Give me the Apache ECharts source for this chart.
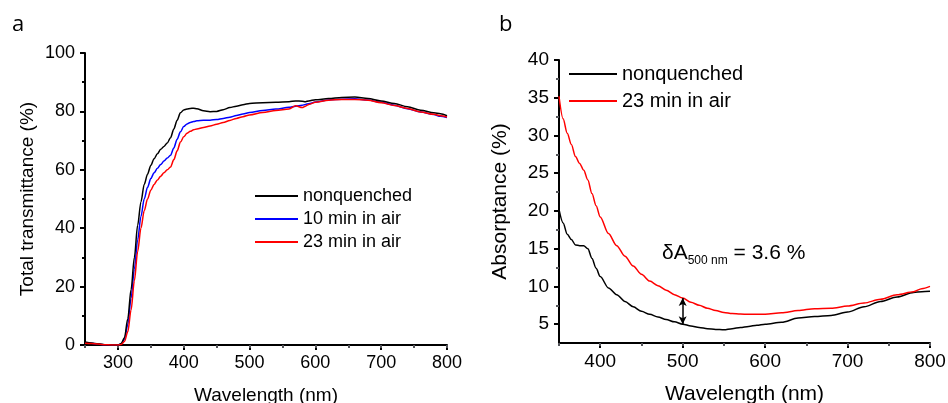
<!DOCTYPE html>
<html>
<head>
<meta charset="utf-8">
<title>Transmittance / absorptance</title>
<script src="https://cdn.jsdelivr.net/npm/echarts@6/dist/echarts.min.js"></script>
<style>
  html, body { margin: 0; padding: 0; background: #fff; }
  #chart { width: 948px; height: 403px; }
</style>
</head>
<body>
<div id="chart"></div>
<script>
// panel a: total transmittance (%)
const wlA = [250, 260, 270, 280, 290, 300, 305, 310, 315, 320, 325, 330, 335, 340, 345, 350, 355, 360, 365, 370, 375, 380, 385, 390, 395, 400, 405, 410, 415, 420, 430, 440, 450, 460, 470, 480, 490, 500, 520, 540, 560, 570, 580, 585, 590, 600, 620, 640, 660, 680, 700, 720, 740, 760, 780, 790, 800]
const nonquenchedA = [1.0, 0.7, 0.4, 0.1, 0, 0, 0.5, 2.5, 9, 19, 30, 41, 49, 55, 58.5, 61.5, 63.8, 65.5, 67, 68, 69.2, 71, 74, 77, 79.5, 80.5, 80.8, 81.0, 81.1, 80.9, 80.2, 79.9, 80.0, 80.6, 81.3, 81.8, 82.3, 82.7, 83.0, 83.1, 83.3, 83.6, 83.5, 83.3, 83.6, 84.0, 84.4, 84.8, 84.9, 84.4, 83.6, 82.7, 81.6, 80.4, 79.5, 79.2, 78.5]
const air10A = [0.8, 0.6, 0.3, 0.1, 0, 0, 0.3, 2, 7, 16, 26, 36, 44, 50, 54, 57, 59, 60.5, 61.8, 63, 64, 65, 67.5, 70.5, 73, 74.8, 75.7, 76.2, 76.5, 76.8, 77.0, 77.0, 77.2, 77.6, 78.0, 78.6, 79.1, 79.6, 80.3, 80.8, 81.4, 81.8, 82.1, 82.4, 82.6, 83.2, 83.9, 84.2, 84.3, 83.9, 83.1, 82.1, 80.9, 79.8, 78.9, 78.3, 77.9]
const air23A = [0.6, 0.5, 0.3, 0.1, 0, 0, 0.2, 1.2, 4.5, 12, 22, 32, 40, 46, 50, 53, 55, 56.5, 57.8, 59, 60, 61, 63.5, 66.5, 69.5, 71.3, 72.5, 73.2, 73.7, 74.0, 74.5, 75.0, 75.6, 76.2, 76.9, 77.6, 78.2, 78.8, 79.6, 80.3, 80.8, 81.9, 81.3, 81.8, 82.4, 83.1, 83.8, 84.1, 84.1, 83.8, 83.0, 82.0, 81.0, 79.8, 79.0, 78.5, 78.1]

// panel b: absorptance (%)
const wlB = [350, 355, 360, 365, 370, 375, 380, 385, 390, 395, 400, 410, 420, 430, 440, 450, 460, 470, 480, 490, 500, 510, 520, 530, 540, 550, 560, 570, 580, 590, 600, 620, 640, 660, 680, 700, 720, 740, 760, 780, 790, 800]
const nonquenchedB = [20.2, 18.4, 16.9, 16.2, 15.5, 15.4, 15.4, 15.0, 13.7, 12.4, 11.3, 9.8, 8.9, 8.0, 7.3, 6.7, 6.3, 5.95, 5.6, 5.3, 5.0, 4.75, 4.55, 4.4, 4.3, 4.25, 4.4, 4.55, 4.7, 4.85, 5.0, 5.25, 5.8, 6.0, 6.15, 6.6, 7.3, 8.0, 8.6, 9.2, 9.3, 9.35]
const air23B = [35.2, 32.2, 30.3, 28.8, 27.2, 26.3, 25.4, 24.1, 22.3, 20.7, 19.2, 17.0, 15.4, 14.0, 12.7, 11.6, 10.7, 10.1, 9.5, 8.9, 8.45, 7.9, 7.5, 7.1, 6.8, 6.55, 6.4, 6.35, 6.3, 6.3, 6.3, 6.5, 6.8, 7.05, 7.1, 7.4, 7.8, 8.3, 8.9, 9.3, 9.7, 10.0]

// ticks
const xTicksA = [300, 400, 500, 600, 700, 800]
const xTicksB = [400, 500, 600, 700, 800]
const yTicksB = [5, 10, 15, 20, 25, 30, 35, 40]
const yMinorB = [7.5, 12.5, 17.5, 22.5, 27.5, 32.5, 37.5]

// delta A arrow at 500 nm
const arrowWl = 500
const arrowLow = 5.0
const arrowHigh = 8.45

const font = 'Liberation Sans, Arial, sans-serif'

function pairs(xs, ys) {
  return xs.map((x, i) => [x, ys[i]])
}

const axisLine = { lineStyle: { color: '#000', width: 2 } }

const chart = echarts.init(document.getElementById('chart'))
chart.setOption({
  animation: false,
  backgroundColor: '#fff',
  textStyle: { fontFamily: font, color: '#000' },
  grid: [
    { left: 85, top: 53, width: 362, height: 292, outerBoundsMode: 'none', containLabel: false },
    { left: 559, top: 60, width: 371, height: 283, outerBoundsMode: 'none', containLabel: false }
  ],
  legend: [
    {
      orient: 'vertical',
      left: 255,
      top: 187,
      padding: 0,
      icon: 'rect',
      itemWidth: 43,
      itemHeight: 2,
      itemGap: 5,
      textStyle: { fontSize: 18, color: '#000', fontFamily: font },
      data: ['nonquenched', '10 min in air', '23 min in air']
    },
    {
      orient: 'vertical',
      left: 569,
      top: 64,
      padding: 0,
      icon: 'rect',
      itemWidth: 48,
      itemHeight: 2,
      itemGap: 7,
      textStyle: { fontSize: 20, color: '#000', fontFamily: font },
      data: ['nonquenched', '23 min in air']
    }
  ],
  xAxis: [
    {
      type: 'value', gridIndex: 0, min: 250, max: 800,
      name: 'Wavelength (nm)', nameLocation: 'middle', nameGap: 41,
      nameTextStyle: { fontSize: 19, color: '#000' },
      axisLine: axisLine,
      axisTick: { customValues: xTicksA, length: 5, lineStyle: { width: 2 } },
      axisLabel: { customValues: xTicksA, fontSize: 18, color: '#000', margin: 9 },
      splitLine: { show: false }
    },
    {
      type: 'value', gridIndex: 0, min: 250, max: 800, interval: 50, position: 'bottom',
      axisLine: { show: false },
      axisTick: { length: 3, lineStyle: { width: 2 } },
      axisLabel: { show: false },
      splitLine: { show: false }
    },
    {
      type: 'value', gridIndex: 1, min: 350, max: 800,
      name: 'Wavelength (nm)', nameLocation: 'middle', nameGap: 41,
      nameTextStyle: { fontSize: 21, color: '#000' },
      axisLine: axisLine,
      axisTick: { customValues: xTicksB, length: 5, lineStyle: { width: 2 } },
      axisLabel: { customValues: xTicksB, fontSize: 19, color: '#000', margin: 9 },
      splitLine: { show: false }
    },
    {
      type: 'value', gridIndex: 1, min: 350, max: 800, interval: 50, position: 'bottom',
      axisLine: { show: false },
      axisTick: { length: 3, lineStyle: { width: 2 } },
      axisLabel: { show: false },
      splitLine: { show: false }
    }
  ],
  yAxis: [
    {
      type: 'value', gridIndex: 0, min: 0, max: 100, interval: 20, position: 'left',
      name: 'Total transmittance (%)', nameLocation: 'middle', nameGap: 48,
      nameTextStyle: { fontSize: 19, color: '#000' },
      axisLine: axisLine,
      axisTick: { length: 5, lineStyle: { width: 2 } },
      minorTick: { show: true, splitNumber: 2, length: 3, lineStyle: { color: '#000', width: 2 } },
      axisLabel: { fontSize: 18, color: '#000', margin: 10 },
      splitLine: { show: false }
    },
    {
      type: 'value', gridIndex: 1, min: 2.5, max: 40, position: 'left',
      name: 'Absorptance (%)', nameLocation: 'middle', nameGap: 48,
      nameTextStyle: { fontSize: 21, color: '#000' },
      axisLine: axisLine,
      axisTick: { customValues: yTicksB, length: 5, lineStyle: { width: 2 } },
      axisLabel: { customValues: yTicksB, fontSize: 19, color: '#000', margin: 10 },
      splitLine: { show: false }
    },
    {
      type: 'value', gridIndex: 1, min: 2.5, max: 40, position: 'left',
      axisLine: { show: false },
      axisTick: { customValues: yMinorB, length: 3, lineStyle: { width: 2 } },
      axisLabel: { show: false },
      splitLine: { show: false }
    }
  ],
  series: [
    {
      name: 'nonquenched', type: 'line', xAxisIndex: 0, yAxisIndex: 0,
      data: pairs(wlA, nonquenchedA), showSymbol: false, smooth: 0.3, smoothMonotone: 'x',
      color: '#000', lineStyle: { width: 1.5 }, z: 4
    },
    {
      name: '10 min in air', type: 'line', xAxisIndex: 0, yAxisIndex: 0,
      data: pairs(wlA, air10A), showSymbol: false, smooth: 0.3, smoothMonotone: 'x',
      color: '#0000ff', lineStyle: { width: 1.5 }, z: 3
    },
    {
      name: '23 min in air', type: 'line', xAxisIndex: 0, yAxisIndex: 0,
      data: pairs(wlA, air23A), showSymbol: false, smooth: 0.3, smoothMonotone: 'x',
      color: '#ff0000', lineStyle: { width: 1.5 }, z: 5
    },
    {
      name: 'nonquenched', type: 'line', xAxisIndex: 2, yAxisIndex: 1,
      data: pairs(wlB, nonquenchedB), showSymbol: false, smooth: 0.3, smoothMonotone: 'x',
      color: '#000', lineStyle: { width: 1.5 },
      markLine: {
        silent: true,
        symbol: ['arrow', 'arrow'],
        symbolSize: [6, 8],
        label: { show: false },
        lineStyle: { color: '#000', width: 1.5, type: 'solid' },
        data: [[{ coord: [arrowWl, arrowLow] }, { coord: [arrowWl, arrowHigh] }]]
      }
    },
    {
      name: '23 min in air', type: 'line', xAxisIndex: 2, yAxisIndex: 1,
      data: pairs(wlB, air23B), showSymbol: false, smooth: 0.3, smoothMonotone: 'x',
      color: '#ff0000', lineStyle: { width: 1.5 }
    }
  ],
  graphic: [
    { type: 'text', left: 12, top: 14, style: { text: 'a', fontSize: 22, fontFamily: 'Open Sans, sans-serif', fill: '#000' } },
    { type: 'text', left: 499, top: 14, style: { text: 'b', fontSize: 22, fontFamily: 'Open Sans, sans-serif', fill: '#000' } },
    {
      type: 'text', left: 662, top: 243,
      style: {
        text: '{m|δA}{s|500 nm}{m| = 3.6 %}',
        fill: '#000',
        rich: {
          m: { fontSize: 21, fontFamily: font, fill: '#000', verticalAlign: 'top', padding: [0, 0, 0, 0] },
          s: { fontSize: 12, fontFamily: font, fill: '#000', padding: [12, 0, 0, 0], verticalAlign: 'top' }
        }
      }
    }
  ]
})
</script>
</body>
</html>
